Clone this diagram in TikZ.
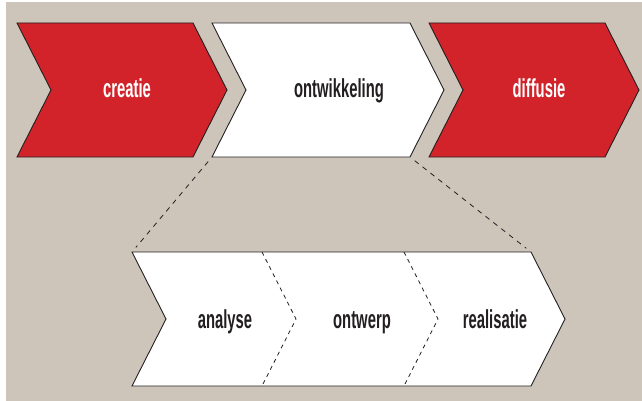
\documentclass[tikz,border=0pt]{standalone}
\usepackage{fontspec}
\newfontfamily\phasefont[FakeStretch=0.57]{Liberation Sans Bold}

\definecolor{bgbeige}{RGB}{205,196,186}
\definecolor{chevred}{RGB}{210,35,42}
\definecolor{inkgray}{RGB}{35,31,32}

\begin{document}
\begin{tikzpicture}[x=1pt,y=-1pt,
    chevron/.style={draw=inkgray, line width=0.9pt, line join=miter},
    phase/.style={font=\phasefont\fontsize{26}{26}\selectfont, inner sep=0pt, anchor=base},
    zoomline/.style={draw=inkgray, line width=0.8pt, dash pattern=on 5pt off 5pt, shorten <=6pt, shorten >=6pt},
    divider/.style={draw=inkgray, line width=0.8pt, dash pattern=on 4pt off 4pt}]
    \useasboundingbox (0,0) rectangle (642,401);
    \fill[bgbeige] (6,2) rectangle (642,401);

    % bovenste rij: creatie - ontwikkeling - diffusie
    \draw[chevron, fill=chevred] (17,23) -- (193,23) -- (227,90) -- (193,157) -- (17,157) -- (51,90) -- cycle;
    \draw[chevron, fill=white] (212,23) -- (410,23) -- (444,90) -- (410,157) -- (212,157) -- (246,90) -- cycle;
    \draw[chevron, fill=chevred] (429,23) -- (605,23) -- (639,90) -- (605,157) -- (429,157) -- (463,90) -- cycle;

    % onderste rij: uitvergroting van ontwikkeling
    \draw[chevron, fill=white] (132,252) -- (531,252) -- (565,319) -- (531,386) -- (132,386) -- (166,319) -- cycle;
    \draw[divider] (262,252) -- (296,319) -- (262,386);
    \draw[divider] (404,252) -- (438,319) -- (404,386);

    \coordinate (ow-bl) at (212,157);
    \coordinate (ow-br) at (410,157);
    \coordinate (sub-tl) at (132,252);
    \coordinate (sub-tr) at (531,252);
    \draw[zoomline] (ow-bl) -- (sub-tl);
    \draw[zoomline] (ow-br) -- (sub-tr);

    \node[phase, text=white] (creatie) at (127,98) {creatie};
    \node[phase, text=inkgray] (ontwikkeling) at (339,98) {ontwikkeling};
    \node[phase, text=white] (diffusie) at (539,98) {diffusie};
    \node[phase, text=inkgray] (analyse) at (225,328) {analyse};
    \node[phase, text=inkgray] (ontwerp) at (362,328) {ontwerp};
    \node[phase, text=inkgray] (realisatie) at (495,328) {realisatie};
\end{tikzpicture}
\end{document}
